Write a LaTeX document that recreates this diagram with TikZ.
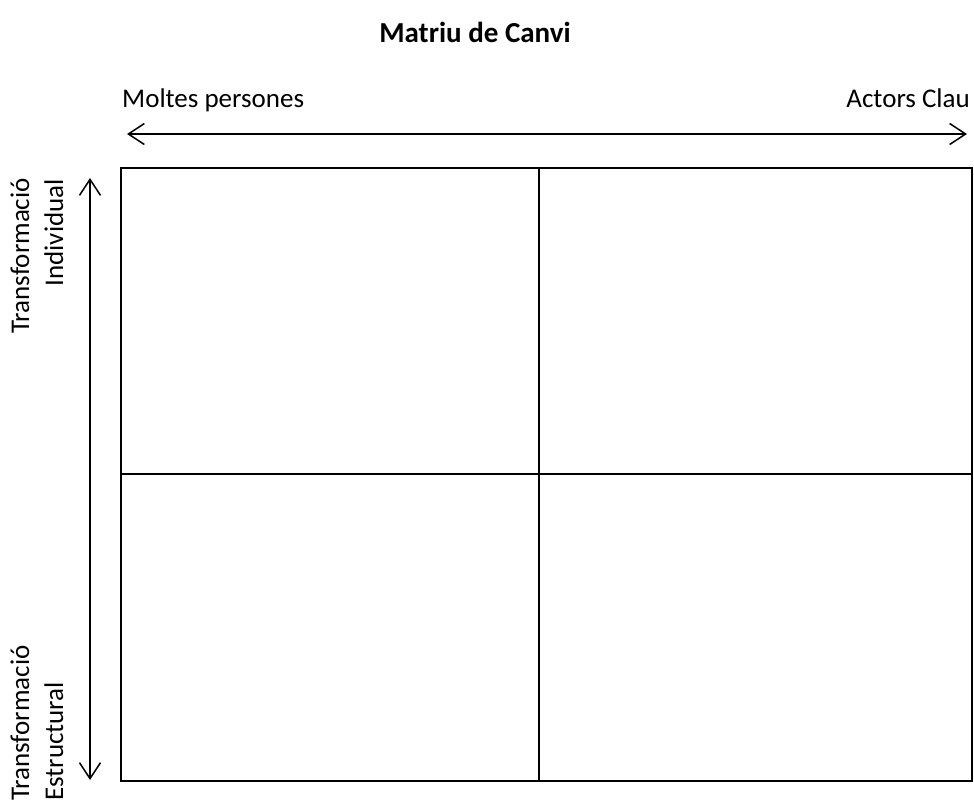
\documentclass[tikz,border=0pt]{standalone}
\usepackage{fontspec}
\setmainfont{Carlito}
\usetikzlibrary{arrows.meta}
\begin{document}
\begin{tikzpicture}[x=1pt,y=-1pt,
  lbl/.style={inner sep=0pt,font=\fontsize{27}{32}\selectfont},
  ttl/.style={inner sep=0pt,font=\fontsize{29}{34}\selectfont\bfseries},
  axis/.style={line width=1.5pt,{Straight Barb[length=16pt,width=21pt,line width=1.5pt]}-{Straight Barb[length=16pt,width=21pt,line width=1.5pt]}},
  cell/.style={draw,line width=2pt}]
\useasboundingbox (0,0) rectangle (974,803);
\node[ttl,anchor=base] (title) at (475,42) {Matriu de Canvi};
\node[lbl,anchor=base west] (many) at (122,107) {Moltes persones};
\node[lbl,anchor=base east] (key) at (970,107) {Actors Clau};
\coordinate (hl) at (127,134);
\coordinate (hr) at (967,134);
\draw[axis] (hl) -- (hr);
\coordinate (vt) at (90,178);
\coordinate (vb) at (90,780);
\draw[axis] (vt) -- (vb);
\node[lbl,rotate=90,anchor=base east] (ti1) at (29,178) {Transformació};
\node[lbl,rotate=90,anchor=base east] (ti2) at (63,179) {Individual};
\node[lbl,rotate=90,anchor=base west] (ts1) at (29,801) {Transformació};
\node[lbl,rotate=90,anchor=base west] (ts2) at (63,801) {Estructural};
\coordinate (tl) at (121,168);
\coordinate (tm) at (539,168);
\coordinate (tr) at (972,168);
\coordinate (ml) at (121,474);
\coordinate (mr) at (972,474);
\coordinate (bl) at (121,781);
\coordinate (bm) at (539,781);
\coordinate (br) at (972,781);
\draw[cell] (tl) rectangle (br);
\draw[cell] (tm) -- (bm);
\draw[cell] (ml) -- (mr);
\end{tikzpicture}
\end{document}
